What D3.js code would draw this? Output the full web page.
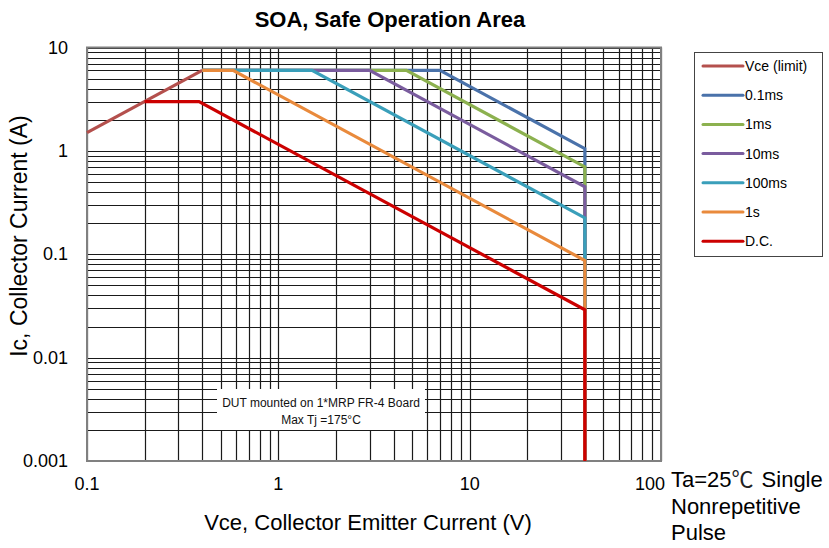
<!DOCTYPE html>
<html>
<head>
  <script src="https://d3js.org/d3.v7.min.js"></script>
  <style>
  body { margin: 0; background: #fff; }
  text { font-family: "Liberation Sans", Arial, sans-serif; }
  </style>
</head>
<body>
<script>
// SOA curves: [Vce, Ic] points
var seriesNames = ["Vce (limit)", "0.1ms", "1ms", "10ms", "100ms", "1s", "D.C."];
var seriesColors = ["#b4504d", "#4a72aa", "#8cb14f", "#7a5c9e", "#3a9fba", "#e98a3c", "#cc0000"];
var vceLimit = [[0.1, 1.5], [0.4, 6]];
var pulse01ms = [[0.4, 6], [7, 6], [40, 1.05], [40, 0.001]];
var pulse1ms = [[0.4, 6], [4.67, 6], [40, 0.7], [40, 0.001]];
var pulse10ms = [[0.4, 6], [3, 6], [40, 0.45], [40, 0.001]];
var pulse100ms = [[0.4, 6], [1.5, 6], [40, 0.225], [40, 0.001]];
var pulse1s = [[0.4, 6], [0.58, 6], [40, 0.087], [40, 0.001]];
var dc = [[0.2, 3], [0.385, 3], [40, 0.029], [40, 0.001]];
var seriesData = [vceLimit, pulse01ms, pulse1ms, pulse10ms, pulse100ms, pulse1s, dc];

var xTicks = [0.1, 1, 10, 100];
var xTickLabels = ["0.1", "1", "10", "100"];
var yTicks = [0.001, 0.01, 0.1, 1, 10];
var yTickLabels = ["0.001", "0.01", "0.1", "1", "10"];

var width = 829, height = 548;
var plotLeft = 87, plotRight = 661, plotTop = 47.5, plotBottom = 461;

var svg = d3.select("body").append("svg")
  .attr("width", width)
  .attr("height", height);

var x = d3.scaleLog().domain([0.1, 100]).range([plotLeft, plotRight]);
var y = d3.scaleLog().domain([0.001, 10]).range([plotBottom, plotTop]);

// grid lines (1..9 per decade)
function gridValues(lo, hi) {
  var out = [];
  for (var d = lo; d < hi * 0.99; d *= 10) {
    for (var k = 1; k <= 9; k++) out.push(d * k);
  }
  out.push(hi);
  return out;
}

var grid = svg.append("g");
grid.selectAll("line.v")
  .data(gridValues(0.1, 100))
  .enter().append("line")
  .attr("x1", function(d) { return Math.round(x(d)) + 0.5; })
  .attr("x2", function(d) { return Math.round(x(d)) + 0.5; })
  .attr("y1", plotTop).attr("y2", plotBottom)
  .attr("stroke", "#1a1a1a").attr("stroke-width", 1.2);
grid.selectAll("line.h")
  .data(gridValues(0.001, 10))
  .enter().append("line")
  .attr("y1", function(d) { return Math.round(y(d)) + 0.5; })
  .attr("y2", function(d) { return Math.round(y(d)) + 0.5; })
  .attr("x1", plotLeft).attr("x2", plotRight)
  .attr("stroke", "#1a1a1a").attr("stroke-width", 1.2);

svg.append("rect")
  .attr("x", plotLeft).attr("y", plotTop)
  .attr("width", plotRight - plotLeft).attr("height", plotBottom - plotTop)
  .attr("fill", "none").attr("stroke", "#808080").attr("stroke-width", 2);

// note box
var note = svg.append("g");
note.append("rect")
  .attr("x", 217).attr("y", 389)
  .attr("width", 208).attr("height", 41)
  .attr("fill", "#fff");
note.append("text").attr("x", 321).attr("y", 407)
  .attr("text-anchor", "middle").attr("font-size", 12).attr("fill", "#111")
  .text("DUT mounted on 1*MRP FR-4 Board");
note.append("text").attr("x", 321).attr("y", 424)
  .attr("text-anchor", "middle").attr("font-size", 12).attr("fill", "#111")
  .text("Max Tj =175°C");

// curves
var line = d3.line()
  .x(function(d) { return x(d[0]); })
  .y(function(d) { return y(d[1]); });

svg.append("g").selectAll("path")
  .data(seriesData)
  .enter().append("path")
  .attr("d", line)
  .attr("fill", "none")
  .attr("stroke", function(d, i) { return seriesColors[i]; })
  .attr("stroke-width", 3.2)
  .attr("stroke-linejoin", "miter");

// tick labels
svg.append("g").selectAll("text")
  .data(xTicks)
  .enter().append("text")
  .attr("x", function(d, i) { return i === xTicks.length - 1 ? x(d) + 4 : x(d); })
  .attr("y", 490)
  .attr("text-anchor", function(d, i) { return i === xTicks.length - 1 ? "end" : "middle"; })
  .attr("font-size", 18)
  .text(function(d, i) { return xTickLabels[i]; });

svg.append("g").selectAll("text")
  .data(yTicks)
  .enter().append("text")
  .attr("x", 68)
  .attr("y", function(d) { return y(d) + 6; })
  .attr("text-anchor", "end")
  .attr("font-size", 18)
  .text(function(d, i) { return yTickLabels[i]; });

// titles
svg.append("text").attr("x", 390).attr("y", 27)
  .attr("text-anchor", "middle").attr("font-size", 22).attr("font-weight", "bold")
  .text("SOA, Safe Operation Area");
svg.append("text").attr("x", 368).attr("y", 530)
  .attr("text-anchor", "middle").attr("font-size", 22)
  .text("Vce, Collector Emitter Current (V)");
svg.append("text")
  .attr("transform", "translate(27,236) rotate(-90)")
  .attr("text-anchor", "middle").attr("font-size", 23)
  .text("Ic, Collector Current (A)");

var cond = svg.append("g").attr("font-size", 22);
var c1 = cond.append("text").attr("x", 671).attr("y", 487);
c1.append("tspan").text("Ta=25");
c1.append("tspan").attr("font-family", "Noto Sans CJK SC").attr("font-size", 22).attr("fill", "#222").text("\u2103");
c1.append("tspan").attr("dx", 8).text("Single");
cond.append("text").attr("x", 671).attr("y", 514).text("Nonrepetitive");
cond.append("text").attr("x", 671).attr("y", 540).text("Pulse");

// legend
var legend = svg.append("g");
legend.append("rect")
  .attr("x", 694.5).attr("y", 52.5)
  .attr("width", 128).attr("height", 204)
  .attr("fill", "#fff").attr("stroke", "#444").attr("stroke-width", 1);
var rows = legend.selectAll("g.row")
  .data(seriesNames)
  .enter().append("g")
  .attr("transform", function(d, i) { return "translate(0," + (66 + i * 29.2) + ")"; });
rows.append("line")
  .attr("x1", 703).attr("x2", 743).attr("y1", 0).attr("y2", 0)
  .attr("stroke", function(d, i) { return seriesColors[i]; })
  .attr("stroke-width", 3).attr("stroke-linecap", "round");
rows.append("text")
  .attr("x", 745).attr("y", 5)
  .attr("font-size", 14)
  .text(function(d) { return d; });
</script>
</body>
</html>
